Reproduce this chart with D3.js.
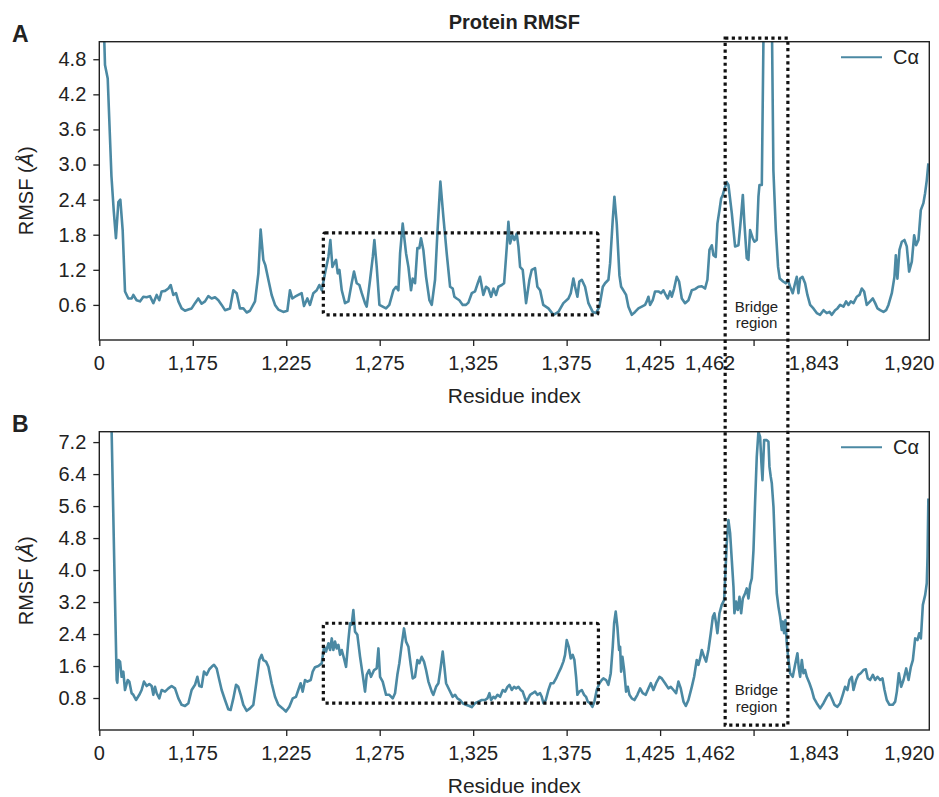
<!DOCTYPE html>
<html><head><meta charset="UTF-8">
<style type="text/css">
body { margin: 0; background: #fff; }
text { font-family: "Liberation Sans", Arial, Helvetica, sans-serif; fill: #222; }
.axis text { font-size: 20px; fill: #222; }
.axis line, .axis path { stroke: #222; stroke-width: 1.3; }
.frame { fill: none; stroke: #222; stroke-width: 1.4; }
.line { fill: none; stroke: #4b89a3; stroke-width: 2.6; stroke-linejoin: round; }
.dotbox { fill: none; stroke: #111; stroke-width: 3.2; stroke-dasharray: 3.2,3.4; }
</style>
<script src="https://cdn.jsdelivr.net/npm/d3@7"></script>
</head><body>
<div id="chart"></div>
<script>
// x positions are residue positions along the plotted sequence (axis ticks every 100)
var tickIdx = [0, 100, 200, 300, 400, 500, 600, 700, 800];
var labelIdx = [0, 100, 200, 300, 400, 500, 589, 653.5, 764.5, 866.7];
var labelText = ["0", "1,175", "1,225", "1,275", "1,325", "1,375", "1,425", "1,462", "1,843", "1,920"];

var yTicksA = [0.6, 1.2, 1.8, 2.4, 3.0, 3.6, 4.2, 4.8];
var yTicksB = [0.8, 1.6, 2.4, 3.2, 4.0, 4.8, 5.6, 6.4, 7.2];

// panel A: C-alpha RMSF, [residue position, RMSF in angstrom]
var caA = [[0,6.6],[5.0,5.3],[6.1,4.70],[9.0,4.47],[13.0,2.8],[15.5,2.2],[17.8,1.74],[20.4,2.36],[22.5,2.40],[25.0,1.88],[27.5,0.83],
  [31.1,0.71],[34.6,0.71],[36.4,0.77],[39.9,0.68],[43.5,0.66],[47.1,0.74],[50.6,0.73],[54.2,0.75],[57.8,0.63],[61.4,0.77],[64.2,0.68],
  [66.7,0.83],[70.3,0.84],[73.9,0.88],[76.4,0.94],[79.2,0.77],[82.1,0.80],[84.6,0.66],[88.1,0.54],[91.7,0.50],[95.3,0.52],[98.8,0.54],
  [102.4,0.63],[105.9,0.71],[109.5,0.62],[113.1,0.66],[116.6,0.75],[120.2,0.71],[123.8,0.73],[127.4,0.68],[130.9,0.60],[134.5,0.51],
  [139.8,0.54],[143.4,0.85],[147.0,0.80],[150.5,0.54],[154.1,0.54],[157.7,0.47],[161.2,0.50],[166.6,0.66],[170.2,1.14],[172.6,1.89],
  [175.5,1.37],[177.6,1.28],[180.9,1.03],[184.4,0.77],[188.0,0.60],[191.5,0.52],[196.9,0.48],[201.2,0.50],[204.0,0.85],[206.5,0.71],
  [209.4,0.74],[212.9,0.77],[216.5,0.80],[219.0,0.58],[222.6,0.71],[225.4,0.60],[229.0,0.80],[232.6,0.85],[235.4,0.94],[238.0,0.85],
  [241.5,1.14],[245.1,1.42],[247.2,1.71],[249.4,1.25],[251.2,1.31],[253.3,1.37],[255.1,1.14],[256.9,1.20],[259.4,0.85],[262.9,0.63],
  [266.5,0.66],[270.0,0.97],[272.5,1.17],[275.4,0.97],[278.3,0.94],[280.8,0.80],[284.3,0.63],[286.1,0.57],[289.7,1.03],[292.6,1.42],
  [294.3,1.71],[296.8,1.25],[299.7,0.60],[303.2,0.57],[306.8,0.54],[310.3,0.60],[314.6,0.85],[317.5,0.91],[320.0,0.85],[321.8,1.48],
  [324.6,1.99],[328.2,1.48],[330.7,1.25],[333.5,0.85],[335.3,1.05],[337.8,0.97],[340.3,1.57],[342.4,1.57],[344.2,1.74],[346.7,1.54],
  [349.6,1.08],[353.2,0.68],[355.7,0.60],[359.2,1.03],[361.7,1.82],[364.9,2.71],[368.1,2.11],[371.7,1.48],[375.3,0.91],[378.1,0.88],
  [379.9,0.74],[382.4,0.71],[385.2,0.68],[388.8,0.60],[392.3,0.60],[394.9,0.64],[398.5,0.80],[402.0,0.83],[404.9,0.97],[407.3,1.08],
  [410.9,0.77],[413.8,0.91],[416.3,0.88],[419.2,0.74],[421.7,0.88],[424.5,0.77],[427.0,0.91],[430.6,0.94],[433.1,0.97],[436.0,1.60],
  [437.7,2.02],[439.5,1.65],[442.0,1.79],[444.1,1.71],[446.6,1.82],[448.4,1.60],[450.2,1.25],[453.0,1.20],[456.6,0.63],[460.2,1.03],
  [462.7,1.20],[466.2,1.23],[468.7,0.91],[471.6,0.85],[475.0,0.60],[480.5,0.54],[485.9,0.43],[491.2,0.48],[496.5,0.63],[501.9,0.71],
  [504.4,0.80],[507.2,1.05],[509.0,0.91],[511.5,0.74],[513.6,1.00],[516.2,1.03],[519.7,0.91],[523.3,0.63],[527.9,0.48],[531.5,0.46],
  [535.0,0.57],[538.7,0.91],[541.1,0.97],[544.7,1.03],[546.5,1.31],[549.3,2.05],[551.1,2.45],[553.6,1.99],[556.5,1.10],[558.3,0.91],
  [560.7,0.85],[563.6,0.77],[566.1,0.57],[569.7,0.43],[573.2,0.48],[576.8,0.54],[580.4,0.57],[583.9,0.60],[585.7,0.66],[587.5,0.74],
  [589.3,0.60],[592.1,0.68],[594.6,0.83],[598.2,0.83],[601.0,0.80],[603.5,0.85],[606.0,0.77],[608.2,0.71],[610.7,0.83],[612.5,0.74],
  [615.0,0.88],[617.8,1.08],[620.3,1.00],[623.2,0.71],[626.7,0.63],[630.3,0.68],[633.9,0.85],[637.4,0.87],[641.0,0.91],[644.6,0.92],
  [648.1,0.88],[650.6,1.03],[652.8,1.54],[655.3,1.62],[657.1,1.45],[659.5,1.42],[661.3,1.99],[663.5,2.22],[665.3,2.42],[667.0,2.48],
  [669.5,2.62],[671.3,2.70],[673.1,2.65],[676.7,2.17],[680.2,1.60],[683.8,1.62],[686.3,2.05],[688.5,2.48],[690.2,1.99],[692.7,1.40],
  [694.5,1.37],[696.3,1.88],[699.1,1.74],[700.9,1.68],[703.4,1.71],[705.2,2.45],[706.3,2.65],[708.8,2.65],[710.6,5.2],[713.5,6.6],
  [716.5,6.9],[719.5,5.6],[721.2,2.9],[723.8,1.88],[726.2,1.25],[728.0,1.05],[731.6,1.00],[734.4,0.97],[736.6,1.03],[739.1,0.91],
  [741.9,0.80],[744.4,0.97],[746.2,1.08],[748.0,0.80],[749.8,1.05],[752.3,1.08],[755.1,0.97],[757.6,0.77],[760.5,0.60],[764.0,0.54],
  [767.6,0.46],[771.2,0.43],[774.8,0.51],[778.3,0.46],[781.2,0.48],[783.7,0.43],[787.2,0.51],[789.7,0.54],[792.6,0.60],[796.2,0.57],
  [799.0,0.66],[801.5,0.60],[804.0,0.66],[806.9,0.63],[810.4,0.74],[813.3,0.77],[815.8,0.88],[818.3,0.83],[821.1,0.60],[824.7,0.66],
  [827.6,0.71],[830.1,0.63],[832.6,0.54],[835.4,0.51],[839.0,0.48],[841.8,0.51],[844.3,0.60],[847.9,0.80],[850.7,1.08],[852.2,1.45],
  [853.9,1.05],[856.1,1.54],[858.6,1.68],[861.4,1.71],[863.9,1.60],[866.4,1.17],[869.3,1.34],[871.8,1.79],[873.9,1.62],[876.4,1.71],
  [878.9,2.22],[881.7,2.34],[883.5,2.51],[885.3,2.73],[887.0,3.02]];

// panel B
var caB = [[12,8.6],[13.2,7.46],[16.8,3.25],[18.6,1.25],[19.3,1.18],[20.4,1.75],[22.2,1.71],[23.9,1.33],[25.7,1.46],[27.5,1.00],
  [30.4,1.25],[32.1,1.21],[34.6,0.92],[36.4,0.88],[39.3,0.75],[42.8,0.88],[45.3,1.00],[47.8,1.21],[50.7,1.10],[53.5,1.15],[56.0,1.10],
  [57.8,0.88],[59.6,1.08],[61.4,0.92],[64.2,0.79],[66.7,1.00],[70.3,0.96],[73.9,1.04],[77.4,1.10],[81.0,1.04],[84.6,0.79],[88.1,0.63],
  [91.7,0.60],[95.3,0.67],[98.8,1.00],[102.4,1.13],[104.9,1.33],[107.0,1.10],[109.5,1.08],[112.0,1.46],[114.9,1.38],[117.7,1.52],
  [120.2,1.58],[122.7,1.63],[125.6,1.54],[128.4,1.25],[130.9,1.00],[134.5,0.75],[138.0,0.52],[140.5,0.50],[143.4,0.79],[146.3,1.13],
  [148.7,1.08],[151.3,0.88],[154.1,0.63],[157.7,0.48],[161.2,0.54],[164.8,0.63],[168.4,1.25],[171.2,1.75],[173.7,1.88],[175.5,1.75],
  [178.4,1.71],[180.9,1.58],[184.4,1.17],[188.0,0.83],[191.5,0.63],[196.2,0.54],[199.7,0.46],[203.3,0.58],[206.9,0.79],[210.4,0.83],
  [212.9,1.00],[215.4,1.17],[217.6,0.96],[220.1,1.25],[222.6,1.21],[226.2,1.25],[228.3,1.46],[230.8,1.57],[234.4,1.60],[238.0,1.67],
  [240.5,2.08],[242.6,1.96],[245.1,2.17],[246.9,2.00],[248.7,2.29],[250.4,2.00],[252.2,2.21],[254.0,2.04],[255.8,2.13],[257.6,1.88],
  [259.4,2.00],[261.8,1.79],[264.0,1.58],[266.5,2.25],[268.3,2.67],[270.0,2.63],[271.8,3.00],[273.6,2.46],[276.1,2.38],[279.0,1.83],
  [281.8,1.38],[284.3,0.96],[286.1,1.38],[288.6,1.50],[290.7,1.33],[294.0,1.50],[296.8,1.54],[298.6,2.04],[300.4,1.33],[303.2,1.21],
  [306.8,0.88],[310.3,0.88],[313.9,0.79],[316.4,0.92],[318.9,1.38],[321.0,1.67],[323.5,2.13],[326.0,2.54],[328.2,2.21],[330.7,2.08],
  [333.2,1.63],[335.3,1.29],[337.8,1.33],[340.3,1.75],[342.4,1.67],[344.9,1.83],[347.4,1.71],[349.6,1.50],[352.1,1.21],[355.7,0.96],
  [357.4,0.88],[360.3,1.08],[362.8,1.17],[365.3,1.58],[367.4,1.96],[369.2,1.58],[371.0,1.17],[374.5,1.00],[378.1,0.83],[380.6,0.88],
  [383.1,0.79],[386.0,0.75],[388.8,0.67],[392.3,0.63],[395.9,0.60],[398.5,0.57],[402.0,0.67],[405.6,0.71],[409.2,0.75],[412.7,0.75],
  [415.2,0.79],[417.4,0.92],[419.2,0.75],[421.7,0.83],[423.5,0.79],[426.0,0.88],[428.8,0.83],[431.7,1.00],[434.2,0.96],[436.7,1.08],
  [438.8,1.13],[441.3,1.00],[443.8,1.08],[446.0,1.04],[448.4,1.08],[450.9,1.00],[453.0,0.96],[455.5,0.79],[457.3,0.71],[460.9,0.88],
  [463.7,0.92],[466.2,0.96],[468.7,0.88],[471.6,0.92],[473.4,0.83],[475.2,0.67],[477.7,0.75],[480.5,1.00],[483.0,1.17],[485.9,1.17],
  [488.7,1.29],[491.2,1.42],[493.7,1.54],[496.5,1.71],[498.3,1.88],[500.1,2.25],[502.3,2.08],[504.4,1.79],[506.5,1.88],[508.3,1.75],
  [510.1,1.33],[511.5,0.88],[513.6,0.96],[516.2,1.00],[518.7,0.88],[520.8,0.83],[522.6,0.71],[525.1,0.67],[527.6,0.58],[529.7,0.71],
  [532.2,1.00],[535.1,1.17],[537.6,1.25],[539.3,1.29],[542.2,1.25],[544.7,1.13],[547.2,1.42],[549.3,2.08],[550.8,2.67],[552.5,2.96],
  [554.3,2.58],[556.1,2.00],[557.2,2.08],[558.3,1.46],[559.7,1.83],[561.5,1.50],[563.6,0.96],[565.4,1.08],[567.2,0.88],[569.7,0.79],
  [572.5,0.75],[575.7,0.88],[578.6,1.04],[581.4,0.92],[584.6,0.88],[587.5,1.04],[590.0,1.17],[592.8,1.00],[595.7,1.17],[599.3,1.33],
  [601.8,1.29],[605.3,1.17],[608.9,1.04],[611.4,1.08],[614.3,1.00],[617.1,0.92],[619.6,1.21],[622.1,1.04],[625.0,0.71],[627.5,0.60],
  [630.3,0.75],[633.9,1.08],[636.4,1.33],[639.2,1.75],[641.0,1.63],[642.8,1.79],[644.6,2.00],[647.1,1.83],[649.2,1.71],[651.7,2.00],
  [654.2,2.42],[656.4,2.83],[658.1,2.92],[659.9,2.67],[661.3,2.42],[663.5,2.92],[665.9,3.13],[668.5,3.25],[671.3,4.67],[673.1,5.25],
  [674.9,4.92],[676.7,4.25],[678.5,3.58],[679.5,2.92],[681.3,3.21],[683.1,3.00],[684.9,3.33],[686.7,2.92],[688.5,3.29],[691.0,3.42],
  [692.7,3.54],[694.5,3.29],[696.3,3.63],[698.1,3.79],[699.9,4.50],[701.7,5.75],[703.4,6.83],[705.2,7.46],[707.0,7.33],[708.4,6.67],
  [709.5,6.25],[711.3,7.25],[714.1,7.25],[715.9,7.21],[717.0,6.58],[718.4,6.33],[719.5,6.17],[721.3,5.58],[723.0,4.50],[724.8,3.42],
  [726.6,3.08],[728.4,2.83],[730.2,2.50],[731.2,2.71],[732.7,2.42],[734.1,2.75],[735.5,2.17],[737.3,1.75],[739.1,1.42],[741.9,1.33],
  [744.4,1.63],[746.9,1.92],[748.4,1.54],[749.8,1.33],[751.6,1.75],[753.4,1.42],[755.1,1.50],[756.9,1.33],[759.8,1.17],[762.3,1.00],
  [764.7,0.79],[767.6,0.67],[771.2,0.54],[774.8,0.67],[778.3,0.83],[781.2,0.92],[783.7,0.79],[786.5,0.63],[789.7,0.58],[792.6,0.67],
  [795.4,0.88],[797.9,1.08],[800.4,1.00],[802.6,1.25],[805.1,1.33],[806.9,1.00],[809.7,1.25],[812.2,1.38],[814.7,1.42],[817.6,1.50],
  [820.1,1.52],[822.2,1.29],[824.7,1.25],[827.6,1.38],[830.1,1.25],[832.6,1.33],[835.4,1.25],[837.9,1.29],[840.1,1.00],[842.5,0.75],
  [845.4,0.63],[849.0,0.63],[851.5,0.71],[853.3,0.96],[855.4,1.42],[857.9,1.08],[860.4,1.25],[863.3,1.54],[865.8,1.25],[868.3,1.58],
  [870.4,1.75],[872.9,2.29],[875.4,2.25],[877.2,2.42],[879.0,2.29],[881.1,3.13],[883.6,3.38],[885.3,3.67],[886.1,4.33],[887.0,5.79]];

// dotted boxes: [x0, x1, yLow, yHigh]
var boxA = [239.7, 533.5, 0.43, 1.83];
var boxB = [239.7, 534.0, 0.67, 2.67];
var bridgeX = [669.6, 736.7];

var width = 939, height = 797;
var left = 99.3, right = 929.3;

var svg = d3.select("#chart").append("svg")
    .attr("width", width).attr("height", height);

var x = d3.scaleLinear().domain([0, 888]).range([left, right]);

var panels = [
  {name: "A", data: caA, top: 41.7, bottom: 340, ymax: 5.1, ticks: yTicksA, box: boxA},
  {name: "B", data: caB, top: 431.7, bottom: 730, ymax: 7.46, ticks: yTicksB, box: boxB}
];

panels.forEach(function(p, k) {
  var y = d3.scaleLinear().domain([0, p.ymax]).range([p.bottom, p.top]);
  p.y = y;
  var g = svg.append("g");

  g.append("clipPath").attr("id", "clip" + k)
    .append("rect").attr("x", left).attr("y", p.top)
    .attr("width", right - left).attr("height", p.bottom - p.top);

  var line = d3.line()
      .x(function(d) { return x(d[0]); })
      .y(function(d) { return y(d[1]); });

  g.append("path")
    .datum(p.data)
    .attr("class", "line")
    .attr("clip-path", "url(#clip" + k + ")")
    .attr("d", line);

  // y axis
  var ya = g.append("g").attr("class", "axis")
    .attr("transform", "translate(" + left + ",0)")
    .call(d3.axisLeft(y).tickValues(p.ticks).tickSize(6).tickSizeOuter(0).tickPadding(7)
      .tickFormat(d3.format(".1f")));
  ya.select(".domain").remove();

  // x ticks (unlabelled) then labels
  var xa = g.append("g").attr("class", "axis")
    .attr("transform", "translate(0," + p.bottom + ")")
    .call(d3.axisBottom(x).tickValues(tickIdx).tickSize(6).tickSizeOuter(0).tickFormat(""));
  xa.select(".domain").remove();

  g.selectAll(".xlab").data(labelIdx).enter()
    .append("text")
    .attr("x", function(d) { return x(d); })
    .attr("y", p.bottom + 30)
    .attr("text-anchor", "middle")
    .style("font-size", "20px")
    .text(function(d, i) { return labelText[i]; });

  g.append("rect").attr("class", "frame")
    .attr("x", left).attr("y", p.top)
    .attr("width", right - left).attr("height", p.bottom - p.top);

  // panel letter
  g.append("text").attr("x", 12).attr("y", p.top)
    .style("font-size", "23px").style("font-weight", "bold").text(p.name);

  // axis titles
  var yl = g.append("text")
    .attr("transform", "translate(33," + ((p.top + p.bottom) / 2) + ") rotate(-90)")
    .attr("text-anchor", "middle").style("font-size", "20px");
  yl.append("tspan").text("RMSF (");
  yl.append("tspan").style("font-style", "italic").text("Å");
  yl.append("tspan").text(")");

  g.append("text").attr("x", (left + right) / 2).attr("y", p.bottom + 63)
    .attr("text-anchor", "middle").style("font-size", "21px").text("Residue index");

  // legend
  var ly = p.top + 15.5;
  g.append("line").attr("x1", 841).attr("x2", 882).attr("y1", ly).attr("y2", ly)
    .attr("stroke", "#4b89a3").attr("stroke-width", 2);
  g.append("text").attr("x", 893).attr("y", ly + 7).style("font-size", "20px").text("Cα");

  // dotted box around the highlighted domain
  g.append("rect").attr("class", "dotbox")
    .attr("x", x(p.box[0])).attr("y", y(p.box[3]))
    .attr("width", x(p.box[1]) - x(p.box[0]))
    .attr("height", y(p.box[2]) - y(p.box[3]))
    .attr("rx", 2);

  // bridge region label
  var bx = x((bridgeX[0] + bridgeX[1]) / 2);
  var by = k === 0 ? 311.7 : 695;
  g.append("text").attr("x", bx).attr("y", by).attr("text-anchor", "middle")
    .style("font-size", "15px").text("Bridge");
  g.append("text").attr("x", bx).attr("y", by + 16.5).attr("text-anchor", "middle")
    .style("font-size", "15px").text("region");
});

// bridge box spans both panels
var yA = panels[0].y, yB = panels[1].y;
svg.append("rect").attr("class", "dotbox")
  .attr("x", x(bridgeX[0])).attr("y", yA(5.16))
  .attr("width", x(bridgeX[1]) - x(bridgeX[0]))
  .attr("height", yB(0.12) - yA(5.16));

// title
svg.append("text").attr("x", (left + right) / 2).attr("y", 29)
  .attr("text-anchor", "middle").style("font-size", "20px").style("font-weight", "bold")
  .text("Protein RMSF");
</script>
</body></html>
